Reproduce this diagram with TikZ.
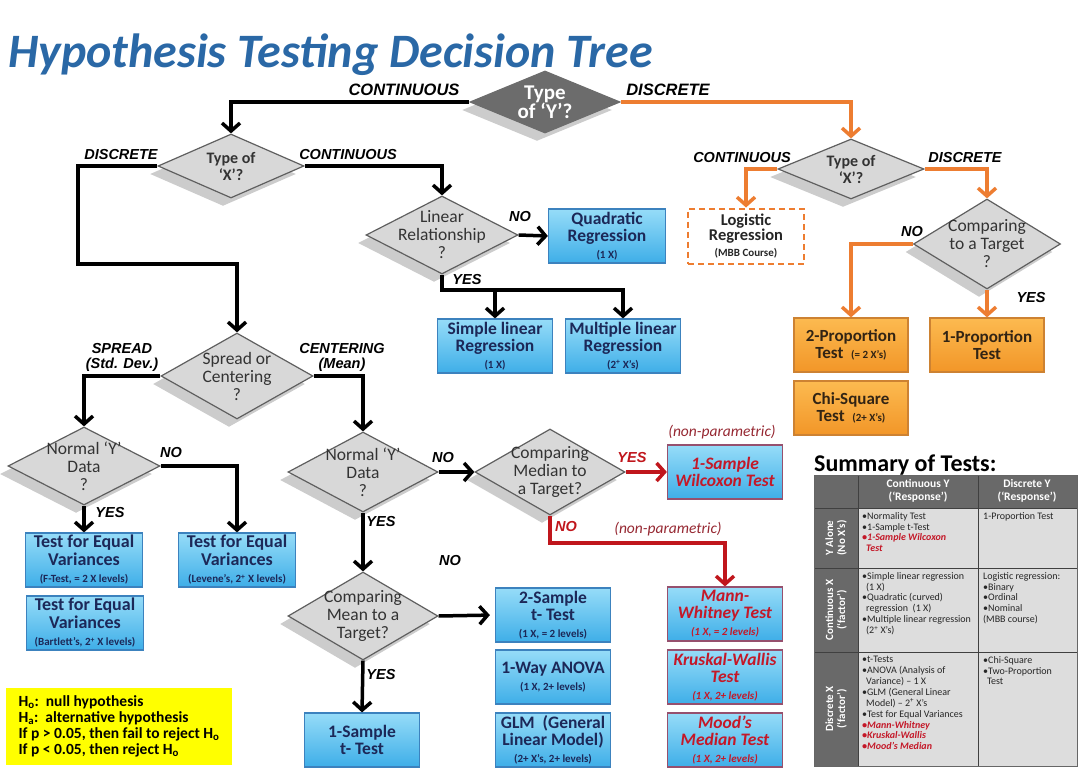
\documentclass[tikz,border=0pt]{standalone}
\usepackage{fontspec}
\setmainfont{Carlito}
\newfontfamily\branchfont{Liberation Sans}
\usepackage{tikz}
\usetikzlibrary{arrows.meta}
\usetikzlibrary{shapes.geometric}
\usetikzlibrary{shadows}
\usetikzlibrary{positioning}
\definecolor{titleblue}{RGB}{42,104,166}
\definecolor{diafill}{RGB}{216,216,216}
\definecolor{diaedge}{RGB}{95,95,95}
\definecolor{ydark}{RGB}{108,108,108}
\definecolor{cyantop}{RGB}{150,220,248}
\definecolor{cyanbot}{RGB}{62,174,232}
\definecolor{cyanedge}{RGB}{60,130,190}
\definecolor{navytext}{RGB}{28,40,88}
\definecolor{redtext}{RGB}{196,24,40}
\definecolor{redline}{RGB}{192,22,28}
\definecolor{rededge}{RGB}{150,80,110}
\definecolor{nonpar}{RGB}{150,40,50}
\definecolor{orgline}{RGB}{237,125,49}
\definecolor{orgtop}{RGB}{252,186,80}
\definecolor{orgbot}{RGB}{242,150,40}
\definecolor{orgedge}{RGB}{205,130,50}
\definecolor{orgtext}{RGB}{50,36,20}
\definecolor{notefill}{RGB}{255,255,0}
\definecolor{tabdark}{RGB}{105,105,105}
\definecolor{tablight}{RGB}{221,221,221}
\tikzset{dia/.style = {diamond, draw = diaedge, fill = diafill, line width = 1.2, inner sep = 0,
    drop shadow = {shadow xshift = -8pt, shadow yshift = -8pt, fill = black, opacity = 0.2}}}
\tikzset{diatxt/.style = {align = center, font = \fontsize{17.5}{18}\selectfont, text = black!80}}
\tikzset{boxb/.style = {rectangle, draw = cyanedge, line width = 1.2, top color = cyantop, bottom color = cyanbot,
    minimum width = 115, minimum height = 54, inner sep = 1, align = center, text = navytext,
    font = \fontsize{17.5}{17}\selectfont\bfseries}}
\tikzset{boxv/.style = {boxb, minimum width = 117, font = \fontsize{18}{17.5}\selectfont\bfseries}}
\tikzset{boxr/.style = {boxb, draw = rededge, text = redtext, font = \fontsize{17.5}{17}\selectfont\bfseries\itshape}}
\tikzset{boxo/.style = {boxb, minimum width = 114, draw = orgedge, top color = orgtop, bottom color = orgbot, text = orgtext,
    font = \fontsize{17}{17}\selectfont\bfseries}}
\tikzset{brlab/.style = {font = \branchfont\fontsize{14.5}{15}\selectfont\bfseries\itshape, inner sep = 0}}
\tikzset{nplab/.style = {font = \fontsize{15.5}{16}\selectfont\itshape, text = nonpar, inner sep = 0}}
\tikzset{blk/.style = {line width = 3.5, -{Straight Barb[length = 8pt, width = 18pt]}}}
\tikzset{org/.style = {blk, draw = orgline}}
\tikzset{redarr/.style = {blk, draw = redline}}
\tikzset{thead/.style = {align = center, text = white, font = \fontsize{11.5}{12.5}\selectfont\bfseries}}
\tikzset{tside/.style = {thead, rotate = 90, font = \fontsize{11}{12}\selectfont\bfseries}}
\tikzset{tcell/.style = {anchor = north west, align = left, inner sep = 0, font = \fontsize{10}{10.9}\selectfont, text = black!85}}
\newcommand{\boxnote}[1]{{\fontsize{11}{11}\selectfont #1}}
\newcommand{\redbul}[1]{\textcolor{redtext}{\bfseries\itshape #1}}

\begin{document}
\begin{tikzpicture}[x = 1pt, y = -1pt]
  \useasboundingbox (0,0) rectangle (1080,771);
  \node [anchor = base west, inner sep = 0, text = titleblue, font = \fontsize{48}{48}\selectfont\bfseries\itshape] (title) at (8,67) {Hypothesis Testing Decision Tree};

  \node [dia, fill = ydark, draw = ydark, minimum width = 150, minimum height = 62,
    label = {[diatxt, text = white, font = \fontsize{21}{19}\selectfont\bfseries]center:{Type\\of `Y'?}}] (tyY) at (545,102) {};
  \node [dia, minimum width = 146, minimum height = 64,
    label = {[diatxt, font = \fontsize{16}{17}\selectfont\bfseries]center:{Type of\\`X'?}}] (tyXL) at (231,166) {};
  \node [dia, minimum width = 152, minimum height = 78,
    label = {[diatxt]center:{Linear\\Relationship\\?}}] (lin) at (442,235) {};
  \node [dia, minimum width = 146, minimum height = 60,
    label = {[diatxt, font = \fontsize{16}{17}\selectfont\bfseries]center:{Type of\\`X'?}}] (tyXR) at (851,169) {};
  \node [dia, minimum width = 147, minimum height = 90,
    label = {[diatxt]center:{Comparing\\to a Target\\?}}] (cmpT) at (987,244) {};
  \node [dia, minimum width = 152, minimum height = 86,
    label = {[diatxt]center:{Spread or\\Centering\\?}}] (spr) at (237,376) {};
  \node [dia, minimum width = 152, minimum height = 78,
    label = {[diatxt]center:{Normal `Y'\\Data\\?}}] (nl) at (84,466) {};
  \node [dia, minimum width = 150, minimum height = 80,
    label = {[diatxt]center:{Normal `Y'\\Data\\?}}] (nm) at (363,472) {};
  \node [dia, minimum width = 150, minimum height = 86,
    label = {[diatxt]center:{Comparing\\Median to\\a Target?}}] (med) at (550,472) {};
  \node [dia, minimum width = 150, minimum height = 88,
    label = {[diatxt]center:{Comparing\\Mean to a\\Target?}}] (cmean) at (363,616) {};

  \node [boxb, minimum width = 117] (quad) at (607,236) {Quadratic\\Regression\\\boxnote{(1 X)}};
  \node [boxb] (slr) at (495,346) {Simple linear\\Regression\\\boxnote{(1 X)}};
  \node [boxb] (mlr) at (623,346) {Multiple linear\\Regression\\\boxnote{(2\textsuperscript{+} X's)}};
  \node [boxr] (wil) at (725,472) {1-Sample\\Wilcoxon Test};
  \node [boxv] (ftest) at (84,560) {Test for Equal\\Variances\\\boxnote{(F-Test, = 2 X levels)}};
  \node [boxv] (lev) at (237,560) {Test for Equal\\Variances\\\boxnote{(Levene's, 2\textsuperscript{+} X levels)}};
  \node [boxv] (bart) at (85,623) {Test for Equal\\Variances\\\boxnote{(Bartlett's, 2\textsuperscript{+} X levels)}};
  \node [boxb] (ts2) at (553,615) {2-Sample\\t- Test\\\boxnote{(1 X, = 2 levels)}};
  \node [boxb] (anova) at (553,677) {1-Way ANOVA\\\boxnote{(1 X, 2+ levels)}};
  \node [boxb] (glm) at (553,740) {GLM\ \ (General\\Linear Model)\\\boxnote{(2+ X's, 2+ levels)}};
  \node [boxb] (ts1) at (362,740) {1-Sample\\t- Test};
  \node [boxr] (mann) at (725,614) {Mann-\\Whitney Test\\\boxnote{(1 X, = 2 levels)}};
  \node [boxr] (krus) at (725,677) {Kruskal-Wallis\\Test\\\boxnote{(1 X, 2+ levels)}};
  \node [boxr] (mood) at (725,740) {Mood's\\Median Test\\\boxnote{(1 X, 2+ levels)}};
  \node [boxo] (p2) at (851,345) {2-Proportion\\Test\ \ \boxnote{(= 2 X's)}};
  \node [boxo] (p1) at (987,345) {1-Proportion\\Test};
  \node [boxo] (chi) at (851,408) {Chi-Square\\Test\ \ \boxnote{(2+ X's)}};
  \node [rectangle, draw = orgline, dash pattern = on 6pt off 4pt, line width = 2, fill = white,
    minimum width = 116, minimum height = 55, align = center, text = black!85,
    font = \fontsize{16.5}{15.5}\selectfont\bfseries] (logi) at (746,236) {Logistic\\Regression\\\boxnote{(MBB Course)}};
  \node [rectangle, fill = notefill, minimum width = 226, minimum height = 77, align = left, inner sep = 0,
    font = \fontsize{15.5}{16}\selectfont\bfseries] (hyp) at (119,726)
    {H\textsubscript{o}:\ \ null hypothesis\\H\textsubscript{a}:\ \ alternative hypothesis\\If p > 0.05, then fail to reject H\textsubscript{o}\\If p < 0.05, then reject H\textsubscript{o}};

  \node [brlab, font = \branchfont\fontsize{16.5}{17}\selectfont\bfseries\itshape] (lcont) at (404,90) {CONTINUOUS};
  \node [brlab, font = \branchfont\fontsize{16.5}{17}\selectfont\bfseries\itshape] (ldisc) at (668,90) {DISCRETE};
  \node [brlab] (lxdisc) at (121,155) {DISCRETE};
  \node [brlab] (lxcont) at (348,155) {CONTINUOUS};
  \node [brlab] (rxcont) at (742,158) {CONTINUOUS};
  \node [brlab] (rxdisc) at (965,158) {DISCRETE};
  \node [brlab] (linno) at (520,217) {NO};
  \node [brlab] (linyes) at (467,280) {YES};
  \node [brlab] (tgtno) at (912,232) {NO};
  \node [brlab] (tgtyes) at (1031,298) {YES};
  \node [brlab, align = center] (lspr) at (122,357) {SPREAD\\(Std. Dev.)};
  \node [brlab, align = center] (lcen) at (342,357) {CENTERING\\(Mean)};
  \node [brlab] (nlno) at (171,453) {NO};
  \node [brlab] (nlyes) at (110,513) {YES};
  \node [brlab] (nmno) at (443,458) {NO};
  \node [brlab] (nmyes) at (381,522) {YES};
  \node [brlab, text = redline] (medyes) at (632,458) {YES};
  \node [brlab, text = redline] (medno) at (566,527) {NO};
  \node [brlab] (meanno) at (450,561) {NO};
  \node [brlab] (meanyes) at (381,675) {YES};
  \node [nplab] (np1) at (722,432) {(non-parametric)};
  \node [nplab] (np2) at (668,529) {(non-parametric)};

  \coordinate (dbend) at (78,264);
  \coordinate (fork) at (623,290);
  \coordinate (mbend) at (725,543);
  \draw [blk] (tyY.west) -| (tyXL.north);
  \draw [org] (tyY.east) -| (tyXR.north);
  \draw [blk] (tyXL.west) -| (dbend) -| (spr.north);
  \draw [blk] (tyXL.east) -| (lin.north);
  \draw [blk] (lin.east) -- (quad.west);
  \draw [blk] (lin.south) |- (fork) -- (mlr.north);
  \draw [blk] (slr.north |- fork) -- (slr.north);
  \draw [org] (tyXR.west) -| (logi.north);
  \draw [org] (tyXR.east) -| (cmpT.north);
  \draw [org] (cmpT.west) -| (p2.north);
  \draw [org] (cmpT.south) -- (p1.north);
  \draw [blk] (spr.west) -| (nl.north);
  \draw [blk] (spr.east) -| (nm.north);
  \draw [blk] (nl.east) -| (lev.north);
  \draw [blk] (nl.south) -- (ftest.north);
  \draw [blk] (nm.east) -- (med.west);
  \draw [blk] (nm.south) -- (cmean.north);
  \draw [redarr] (med.east) -- (wil.west);
  \draw [redarr] (med.south) |- (mbend) -- (mann.north);
  \draw [blk, shorten > = 5pt] (cmean.east) -- (ts2.west);
  \draw [blk] (cmean.south) -- (ts1.north);

  \node [anchor = base west, inner sep = 0, font = \fontsize{24}{24}\selectfont\bfseries] (sumt) at (814,471) {Summary of Tests:};
  \fill [tablight] (814,475) rectangle (1077,766);
  \fill [tabdark] (814,475) rectangle (1077,508);
  \fill [tabdark] (814,508) rectangle (858,766);
  \foreach \y in {508,568,652} {
    \draw [black!75, line width = 1] (814,\y) -- (1077,\y);
  }
  \foreach \x in {858,978} {
    \draw [black!75, line width = 1] (\x,475) -- (\x,766);
  }
  \draw [black!60, line width = 0.8] (814,475) rectangle (1077,766);
  \node [thead] (hcon) at (918,491) {Continuous Y\\(`Response')};
  \node [thead] (hdis) at (1027,491) {Discrete Y\\(`Response')};
  \node [tside] (ralone) at (836,538) {Y Alone\\(No X's)};
  \node [tside] (rcon) at (836,610) {Continuous X\\(`factor')};
  \node [tside] (rdis) at (836,709) {Discrete X\\(`factor')};
  \node [tcell] (c12) at (862,512) {\textbullet Normality Test\\\textbullet 1-Sample t-Test\\\redbul{\textbullet 1-Sample Wilcoxon}\\\redbul{\hspace*{4pt}Test}};
  \node [tcell] (c13) at (983,512) {1-Proportion Test};
  \node [tcell] (c22) at (862,572) {\textbullet Simple linear regression\\\hspace*{4pt}(1 X)\\\textbullet Quadratic (curved)\\\hspace*{4pt}regression\ \ (1 X)\\\textbullet Multiple linear regression\\\hspace*{4pt}(2\textsuperscript{+} X's)};
  \node [tcell] (c23) at (983,572) {Logistic regression:\\\textbullet Binary\\\textbullet Ordinal\\\textbullet Nominal\\(MBB course)};
  \node [tcell] (c32) at (862,656) {\textbullet t-Tests\\\textbullet ANOVA (Analysis of\\\hspace*{4pt}Variance) -- 1 X\\\textbullet GLM (General Linear\\\hspace*{4pt}Model) -- 2\textsuperscript{+} X's\\\textbullet Test for Equal Variances\\\redbul{\textbullet Mann-Whitney}\\\redbul{\textbullet Kruskal-Wallis}\\\redbul{\textbullet Mood's Median}};
  \node [tcell] (c33) at (983,656) {\textbullet Chi-Square\\\textbullet Two-Proportion\\\hspace*{4pt}Test};
\end{tikzpicture}
\end{document}
